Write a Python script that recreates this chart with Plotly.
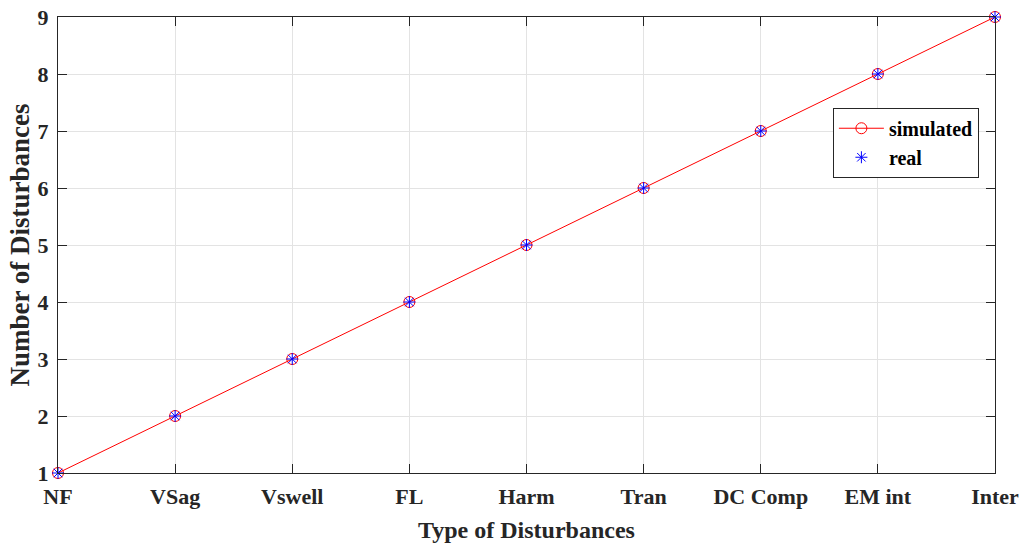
import plotly.graph_objects as go

categories = ["NF", "VSag", "Vswell", "FL", "Harm", "Tran", "DC Comp", "EM int", "Inter"]
simulated = [1, 2, 3, 4, 5, 6, 7, 8, 9]
real = [1, 2, 3, 4, 5, 6, 7, 8, 9]
y_ticks = [1, 2, 3, 4, 5, 6, 7, 8, 9]

FONT = "Liberation Serif"
AX = "#262626"

fig = go.Figure()
fig.add_trace(go.Scatter(
    x=categories, y=simulated, name="<b>simulated</b>", mode="lines+markers",
    line=dict(color="red", width=1),
    marker=dict(symbol="circle-open", size=11, color="red", line=dict(width=1)),
    cliponaxis=False,
))
fig.add_trace(go.Scatter(
    x=categories, y=real, name="<b>real</b>", mode="markers",
    marker=dict(symbol="asterisk-open", size=10, color="blue", line=dict(width=1, color="blue")),
    cliponaxis=False,
))

fig.update_layout(
    width=1021, height=545,
    margin=dict(l=58, r=26, t=17, b=72, autoexpand=False),
    paper_bgcolor="white", plot_bgcolor="white",
    font=dict(family=FONT, size=22, color=AX),
    showlegend=True,
    legend=dict(
        x=0.827, y=0.801, xanchor="left", yanchor="top",
        bgcolor="white", bordercolor=AX, borderwidth=1,
        font=dict(family=FONT, size=20, color="black"),
        itemwidth=45, tracegroupgap=0,
    ),
    xaxis=dict(
        type="category", range=[0, 8], automargin=False,
        showgrid=True, gridcolor="#e3e3e3", gridwidth=1,
        showline=True, linecolor=AX, linewidth=1, mirror="ticks",
        ticks="inside", ticklen=9, tickcolor=AX, ticklabelstandoff=4,
        ticklabeloverflow="allow",
        tickfont=dict(family=FONT, size=22, color=AX, weight="bold"),
        title=dict(text="<b>Type of Disturbances</b>", font=dict(family=FONT, size=24, color=AX), standoff=12),
        zeroline=False,
    ),
    yaxis=dict(
        range=[1, 9], tickvals=y_ticks, automargin=False,
        showgrid=True, gridcolor="#e3e3e3", gridwidth=1,
        showline=True, linecolor=AX, linewidth=1, mirror="ticks",
        ticks="inside", ticklen=9, tickcolor=AX, ticklabelstandoff=4,
        ticklabeloverflow="allow",
        tickfont=dict(family=FONT, size=22, color=AX, weight="bold"),
        title=dict(text="<b>Number of Disturbances</b>", font=dict(family=FONT, size=27, color=AX), standoff=0),
        zeroline=False,
    ),
)

fig.write_html(
    "out.html",
    config={"displayModeBar": False},
    post_script="document.body.style.margin='0';document.body.style.overflow='hidden';",
)
